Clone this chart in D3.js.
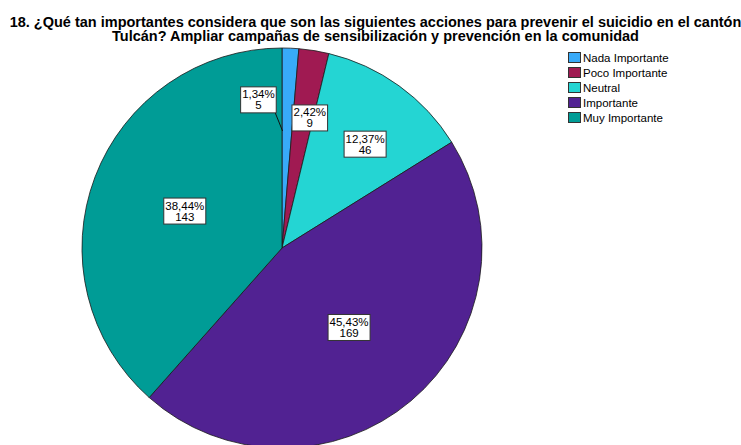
<!DOCTYPE html>
<html>
<head>
<meta charset="utf-8">
<script src="https://cdn.jsdelivr.net/npm/d3@7"></script>
<style>
  html, body { margin: 0; padding: 0; background: #ffffff; }
  svg { display: block; font-family: "Liberation Sans", Arial, sans-serif; }
</style>
</head>
<body>
<svg id="chart" width="741" height="445"></svg>
<script>
// ---- data ----
const titleLines = [
  "18. ¿Qué tan importantes considera que son las siguientes acciones para prevenir el suicidio en el cantón",
  "Tulcán? Ampliar campañas de sensibilización y prevención en la comunidad"
];
const categories = ["Nada Importante", "Poco Importante", "Neutral", "Importante", "Muy Importante"];
const counts = [5, 9, 46, 169, 143];
const percentLabels = ["1,34%", "2,42%", "12,37%", "45,43%", "38,44%"];
const colors = ["#38AAF8", "#A01A52", "#24D5D3", "#512292", "#009C96"];

// ---- layout ----
const svg = d3.select("#chart");
const cx = 282, cy = 248, R = 200;

// title (one text element, one tspan per line)
const title = svg.append("text")
  .attr("text-anchor", "middle")
  .attr("font-size", 14.5).attr("font-weight", "bold")
  .attr("fill", "#000");
titleLines.forEach((t, i) => {
  title.append("tspan")
    .attr("x", 375.5).attr("y", 26.5 + i * 14.5)
    .text(t);
});

const data = categories.map((c, i) => ({ cat: c, n: counts[i], pct: percentLabels[i], color: colors[i] }));
const total = d3.sum(counts);

const pie = d3.pie().sort(null).value(d => d.n);
const arcs = pie(data);
const arc = d3.arc().innerRadius(0).outerRadius(R);

const g = svg.append("g").attr("transform", `translate(${cx},${cy})`);
g.selectAll("path.slice")
  .data(arcs)
  .enter().append("path")
  .attr("class", "slice")
  .attr("d", arc)
  .attr("fill", d => d.data.color)
  .attr("stroke", "#1a1a1a")
  .attr("stroke-width", 0.8)
  .attr("stroke-linejoin", "round");

// labels
const polar = (a, r) => [r * Math.sin(a), -r * Math.cos(a)];
const labels = g.append("g");
arcs.forEach(d => {
  const frac = d.data.n / total;
  const mid = (d.startAngle + d.endAngle) / 2;
  let pos, leader = null;
  if (frac < 0.02) {
    // callout placed beside the thin slice, with a leader line
    pos = polar(mid - 0.2, R * 0.75);
    leader = polar(d.startAngle + 0.005, R * 0.585);
  } else if (frac > 0.3) {
    pos = polar(mid, R * 0.52);
  } else {
    pos = polar(mid + 0.05, R * 0.665);
  }
  const lg = labels.append("g").attr("transform", `translate(${pos[0]},${pos[1]})`);
  const rect = lg.append("rect");
  const t = lg.append("text").attr("text-anchor", "middle")
    .attr("font-size", 11.5).attr("fill", "#000");
  const t1 = t.append("tspan").attr("x", 0).attr("y", -1.5).text(d.data.pct);
  const t2 = t.append("tspan").attr("x", 0).attr("y", 9.5).text(d.data.n);
  const w = Math.max(t1.node().getComputedTextLength(), t2.node().getComputedTextLength()) + 3;
  const h = 26;
  rect.attr("x", -w / 2).attr("y", -h / 2).attr("width", w).attr("height", h)
    .attr("fill", "#fff").attr("stroke", "#333").attr("stroke-width", 1);
  if (leader) {
    labels.insert("line", ":first-child")
      .attr("x1", pos[0] + w / 2 - 1).attr("y1", pos[1] + h / 2)
      .attr("x2", leader[0]).attr("y2", leader[1])
      .attr("stroke", "#111").attr("stroke-width", 1);
  }
});

// legend
const legend = svg.append("g").attr("transform", "translate(568,52)");
data.forEach((d, i) => {
  const row = legend.append("g").attr("transform", `translate(0,${i * 15})`);
  row.append("rect").attr("x", 0.5).attr("y", 0.5).attr("width", 12).attr("height", 10)
    .attr("fill", d.color).attr("stroke", "#333").attr("stroke-width", 1);
  row.append("text").attr("x", 15).attr("y", 10)
    .attr("font-size", 11.5).attr("fill", "#000").text(d.cat);
});
</script>
</body>
</html>
